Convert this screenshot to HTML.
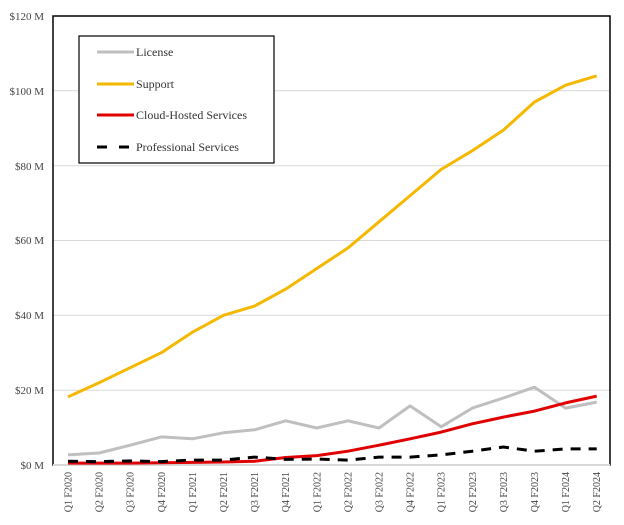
<!DOCTYPE html>
<html><head><style>
html,body{margin:0;padding:0;background:#fff;}
svg{display:block;font-family:"Liberation Serif",serif;}
</style></head><body>
<svg width="624" height="525" xmlns="http://www.w3.org/2000/svg">
<g stroke="#d9d9d9" stroke-width="1">
<line x1="53" x2="610" y1="390.2" y2="390.2"/>
<line x1="53" x2="610" y1="315.3" y2="315.3"/>
<line x1="53" x2="610" y1="240.5" y2="240.5"/>
<line x1="53" x2="610" y1="165.7" y2="165.7"/>
<line x1="53" x2="610" y1="90.8" y2="90.8"/>
</g>
<rect x="53" y="16" width="557" height="449" fill="none" stroke="#000" stroke-width="1.5"/>
<line x1="53" x2="610" y1="465" y2="465" stroke="#d9d9d9" stroke-width="2"/>
<g font-size="11" fill="#444" text-anchor="end">
<text x="44" y="469">$0 M</text>
<text x="44" y="394">$20 M</text>
<text x="44" y="319">$40 M</text>
<text x="44" y="244">$60 M</text>
<text x="44" y="170">$80 M</text>
<text x="44" y="95">$100 M</text>
<text x="44" y="20">$120 M</text>
</g>
<g font-size="10" fill="#444" text-anchor="end">
<text transform="translate(71.5,472) rotate(-90)">Q1 F2020</text>
<text transform="translate(102.6,472) rotate(-90)">Q2 F2020</text>
<text transform="translate(133.7,472) rotate(-90)">Q3 F2020</text>
<text transform="translate(164.8,472) rotate(-90)">Q4 F2020</text>
<text transform="translate(195.9,472) rotate(-90)">Q1 F2021</text>
<text transform="translate(227,472) rotate(-90)">Q2 F2021</text>
<text transform="translate(258.1,472) rotate(-90)">Q3 F2021</text>
<text transform="translate(289.2,472) rotate(-90)">Q4 F2021</text>
<text transform="translate(320.3,472) rotate(-90)">Q1 F2022</text>
<text transform="translate(351.4,472) rotate(-90)">Q2 F2022</text>
<text transform="translate(382.5,472) rotate(-90)">Q3 F2022</text>
<text transform="translate(413.6,472) rotate(-90)">Q4 F2022</text>
<text transform="translate(444.7,472) rotate(-90)">Q1 F2023</text>
<text transform="translate(475.8,472) rotate(-90)">Q2 F2023</text>
<text transform="translate(506.9,472) rotate(-90)">Q3 F2023</text>
<text transform="translate(538,472) rotate(-90)">Q4 F2023</text>
<text transform="translate(569.1,472) rotate(-90)">Q1 F2024</text>
<text transform="translate(600.2,472) rotate(-90)">Q2 F2024</text>
</g>
<g fill="none" stroke-width="3" stroke-linejoin="round">
<polyline stroke="#bfbfbf" points="68,454.9 99.1,453 130.2,445.2 161.3,436.9 192.4,438.8 223.5,432.8 254.6,429.8 285.7,420.8 316.8,428 347.9,420.8 379,428 410.1,405.9 441.2,426.8 472.3,408.1 503.4,398 534.5,387.2 565.6,408.1 596.7,402.1"/>
<polyline stroke="#f5b800" points="68,396.9 99.1,382.7 130.2,367.7 161.3,352.7 192.4,332.2 223.5,315.3 254.6,306 285.7,289.1 316.8,268.5 347.9,248 379,221.8 410.1,195.6 441.2,169.4 472.3,150.7 503.4,130.1 534.5,102 565.6,85.2 596.7,75.8"/>
<polyline stroke="#e00000" points="68,463.1 99.1,463.1 130.2,463.1 161.3,462.8 192.4,462.4 223.5,462 254.6,461.3 285.7,457.5 316.8,455.6 347.9,451.2 379,445.2 410.1,438.8 441.2,432.1 472.3,423.8 503.4,417.1 534.5,411.1 565.6,402.9 596.7,396.1"/>
<polyline stroke="#000" stroke-dasharray="10,8" points="68,461.3 99.1,461.6 130.2,460.9 161.3,461.6 192.4,460.1 223.5,460.1 254.6,457.1 285.7,459.4 316.8,459 347.9,460.1 379,457.1 410.1,457.1 441.2,454.9 472.3,451.2 503.4,447 534.5,451.2 565.6,448.9 596.7,448.9"/>
</g>
<rect x="79" y="36" width="195" height="127" fill="#fff" stroke="#000" stroke-width="1.2"/>
<g stroke-width="3">
<line x1="97" x2="134" y1="52" y2="52" stroke="#bfbfbf"/>
<line x1="97" x2="134" y1="84" y2="84" stroke="#f5b800"/>
<line x1="97" x2="134" y1="115" y2="115" stroke="#e00000"/>
<line x1="97" x2="134" y1="147" y2="147" stroke="#000" stroke-dasharray="10,12"/>
</g>
<g font-size="12" fill="#333">
<text x="136" y="56">License</text>
<text x="136" y="88">Support</text>
<text x="136" y="119">Cloud-Hosted Services</text>
<text x="136" y="151">Professional Services</text>
</g>
</svg>
</body></html>
